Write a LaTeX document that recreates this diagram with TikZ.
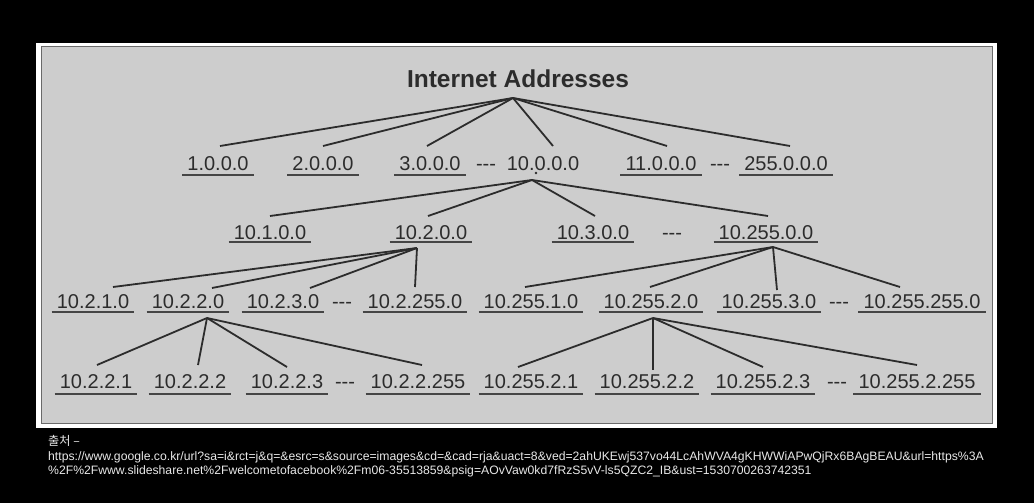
\documentclass[tikz,border=0pt]{standalone}
\usepackage{fontspec}
\setmainfont{Liberation Sans}
\newfontfamily\krfont{Noto Sans CJK KR}
\usetikzlibrary{calc}
\definecolor{panel}{HTML}{CDCDCD}
\definecolor{ink}{HTML}{2C2C2C}
\definecolor{ulink}{HTML}{454545}
\definecolor{frameline}{HTML}{6A6A6A}
\definecolor{srctext}{HTML}{E8E8E8}
\tikzset{
  addr/.style={font=\fontsize{20}{24}\selectfont, text=ink, inner xsep=5pt, inner ysep=0pt, anchor=base},
  titlebox/.style={font=\fontsize{24.5}{29}\selectfont\bfseries, text=ink, inner sep=0pt, anchor=base},
  conn/.style={draw=ink, line width=1.8pt},
  ulline/.style={draw=ulink, line width=2.4pt},
  srcline/.style={font=\fontsize{12.2}{14}\selectfont, text=srctext, inner sep=0pt, anchor=base west}
}
\begin{document}
\begin{tikzpicture}[x=1pt,y=-1pt]
\useasboundingbox (0,0) rectangle (1034,503);
\fill[black] (0,0) rectangle (1034,503);
\fill[white] (36,43) rectangle (997,428);
\filldraw[fill=panel, draw=frameline, line width=1.6pt] (41.5,46.5) rectangle (992.5,423.5);

\node[titlebox] (title) at (518,88) {Internet Addresses};

% row 1
\node[addr] (t1) at (218,170) {1.0.0.0};
\node[addr] (t2) at (323,170) {2.0.0.0};
\node[addr] (t3) at (430,170) {3.0.0.0};
\node[addr] (d1) at (486,170) {-{}-{}-};
\node[addr] (t10) at (543,170) {10.0.0.0};
\node[addr] (t11) at (661,170) {11.0.0.0};
\node[addr] (d2) at (720,170) {-{}-{}-};
\node[addr] (t255) at (786,170) {255.0.0.0};

% row 2
\node[addr] (s1) at (270,239) {10.1.0.0};
\node[addr] (s2) at (431,239) {10.2.0.0};
\node[addr] (s3) at (593,239) {10.3.0.0};
\node[addr] (d3) at (672,239) {-{}-{}-};
\node[addr] (s255) at (766,239) {10.255.0.0};

% row 3
\node[addr] (u1) at (93,308) {10.2.1.0};
\node[addr] (u2) at (188,308) {10.2.2.0};
\node[addr] (u3) at (283,308) {10.2.3.0};
\node[addr] (d4) at (342,308) {-{}-{}-};
\node[addr] (u255) at (415,308) {10.2.255.0};
\node[addr] (v1) at (531,308) {10.255.1.0};
\node[addr] (v2) at (651,308) {10.255.2.0};
\node[addr] (v3) at (769,308) {10.255.3.0};
\node[addr] (d5) at (839,308) {-{}-{}-};
\node[addr] (v255) at (922,308) {10.255.255.0};

% row 4
\node[addr] (w1) at (96,388) {10.2.2.1};
\node[addr] (w2) at (190,388) {10.2.2.2};
\node[addr] (w3) at (287,388) {10.2.2.3};
\node[addr] (d6) at (345,388) {-{}-{}-};
\node[addr] (w255) at (418,388) {10.2.2.255};
\node[addr] (x1) at (531,388) {10.255.2.1};
\node[addr] (x2) at (647,388) {10.255.2.2};
\node[addr] (x3) at (763,388) {10.255.2.3};
\node[addr] (d7) at (837,388) {-{}-{}-};
\node[addr] (x255) at (917,388) {10.255.2.255};

% underlines
\foreach \n/\dy in {t1/5,t2/5,t3/5,t11/5,t255/5,
  s1/3,s2/3,s3/3,s255/3,
  u1/4,u2/4,u3/4,u255/4,v1/4,v2/4,v3/4,v255/4,
  w1/6,w2/6,w3/6,w255/6,x1/6,x2/6,x3/6,x255/6}
  \draw[ulline] ([yshift=-\dy pt]\n.base west) -- ([yshift=-\dy pt]\n.base east);

% roots
\coordinate (rT) at ([xshift=-5pt,yshift=-10pt]title.base);
\coordinate (r10) at ([xshift=-11pt,yshift=-10pt]t10.base);
\coordinate (r102) at ([xshift=-14pt,yshift=-9pt]s2.base);
\coordinate (r10255) at ([xshift=7pt,yshift=-8pt]s255.base);
\coordinate (r1022) at ([xshift=19pt,yshift=-10pt]u2.base);
\coordinate (r102552) at ([xshift=2pt,yshift=-10pt]v2.base);

\fill[ink] ([xshift=-7pt,yshift=-3pt]t10.base) circle (1.3pt);

% connectors
\foreach \c/\dx in {t1/2,t2/0,t3/-3,t10/10,t11/6,t255/4}
  \draw[conn] (rT) -- ([xshift=\dx pt,yshift=24pt]\c.base);
\foreach \c/\dx in {s1/0,s2/-3,s3/2,s255/2}
  \draw[conn] (r10) -- ([xshift=\dx pt,yshift=23pt]\c.base);
\foreach \c/\dx/\dy in {u1/20/21,u2/24/20,u3/27/20,u255/0/21}
  \draw[conn] (r102) -- ([xshift=\dx pt,yshift=\dy pt]\c.base);
\foreach \c/\dx/\dy in {v1/-6/21,v2/-1/21,v3/8/18,v255/-22/21}
  \draw[conn] (r10255) -- ([xshift=\dx pt,yshift=\dy pt]\c.base);
\foreach \c/\dx/\dy in {w1/1/23,w2/8/23,w3/0/21,w255/4/23}
  \draw[conn] (r1022) -- ([xshift=\dx pt,yshift=\dy pt]\c.base);
\foreach \c/\dx/\dy in {x1/-13/21,x2/6/18,x3/0/21,x255/0/23}
  \draw[conn] (r102552) -- ([xshift=\dx pt,yshift=\dy pt]\c.base);

% source text
\node[srcline] (src0) at (48,445) {\krfont 출처 –};
\node[srcline] (src1) at (48,460) {https://www.google.co.kr/url?sa=i\&rct=j\&q=\&esrc=s\&source=images\&cd=\&cad=rja\&uact=8\&ved=2ahUKEwj537vo44LcAhWVA4gKHWWiAPwQjRx6BAgBEAU\&url=https\%3A};
\node[srcline] (src2) at (48,474) {\%2F\%2Fwww.slideshare.net\%2Fwelcometofacebook\%2Fm06-35513859\&psig=AOvVaw0kd7fRzS5vV-ls5QZC2\_IB\&ust=1530700263742351};
\end{tikzpicture}
\end{document}
